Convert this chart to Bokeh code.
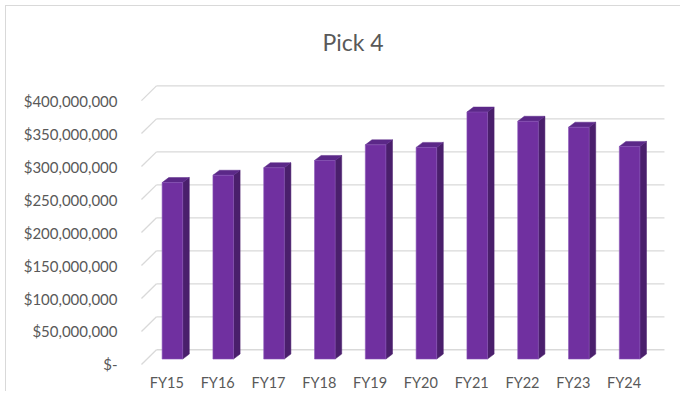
from bokeh.plotting import figure
from bokeh.models import FixedTicker, Range1d
from bokeh.core.properties import value
from bokeh.embed import file_html
from bokeh.resources import INLINE

# ---- data ----
categories = ["FY15", "FY16", "FY17", "FY18", "FY19", "FY20", "FY21", "FY22", "FY23", "FY24"]
values_musd = [267.5, 278.6, 290.0, 301.0, 324.7, 320.8, 374.4, 360.4, 351.4, 322.3]
y_ticks = [0, 50e6, 100e6, 150e6, 200e6, 250e6, 300e6, 350e6, 400e6]
y_tick_labels = ["$-", "$50,000,000", "$100,000,000", "$150,000,000", "$200,000,000",
                 "$250,000,000", "$300,000,000", "$350,000,000", "$400,000,000"]

values = [v * 1e6 for v in values_musd]

# ---- 3D style constants (data units) ----
DEPTH_X = 0.295          # wall depth along category axis
DEPTH_Y = 22.3e6         # wall depth along value axis
BAR_W = 0.405
BAR_F = 0.37             # position of bar front face in depth
BAR_BX = 0.44            # bar depth (x) fraction
BAR_BY = 0.34            # bar depth (y) fraction
XLABEL_Y = -26.7e6       # vertical position of category labels

FONT = "Lato"
GREY = "#595959"
GRID = "#d9d9d9"

n = len(categories)
p = figure(width=680, height=391, output_backend="svg", toolbar_location=None,
           x_range=Range1d(-0.039, 10.335), y_range=Range1d(-40.96e6, 424.4e6),
           min_border_left=139, min_border_right=14, min_border_top=82, min_border_bottom=0)
p.outline_line_color = None
p.xgrid.visible = False
p.ygrid.visible = False
p.xaxis.visible = False
p.border_fill_color = None
p.background_fill_color = None

# title
p.title.text = "Pick 4"
p.title.align = "left"
p.title.vertical_align = "top"
p.title.standoff = 54
p.title.text_font = FONT
p.title.text_font_style = "normal"
p.title.text_font_size = "23px"
p.title.text_color = GREY
p.title.offset = 183

# gridlines: back wall + diagonal side
gx0 = [DEPTH_X] * len(y_ticks)
gx1 = [n + DEPTH_X] * len(y_ticks)
gy = [t + DEPTH_Y for t in y_ticks]
p.segment(x0=gx0, y0=gy, x1=gx1, y1=gy, line_color=GRID, line_width=1.3)
p.segment(x0=[0] * len(y_ticks), y0=y_ticks, x1=[DEPTH_X] * len(y_ticks), y1=gy,
          line_color=GRID, line_width=1.3)

# bars
fx_l, fx_r, fy0, fy1 = [], [], [], []
side_xs, side_ys, top_xs, top_ys = [], [], [], []
for i, v in enumerate(values):
    xl = i + 0.5 - BAR_W / 2 + BAR_F * DEPTH_X
    xr = i + 0.5 + BAR_W / 2 + BAR_F * DEPTH_X
    yb = BAR_F * DEPTH_Y
    yt = v + BAR_F * DEPTH_Y
    dx = BAR_BX * DEPTH_X
    dy = BAR_BY * DEPTH_Y
    fx_l.append(xl); fx_r.append(xr); fy0.append(yb); fy1.append(yt)
    side_xs.append([xr, xr + dx, xr + dx, xr])
    side_ys.append([yb, yb + dy, yt + dy, yt])
    top_xs.append([xl, xr, xr + dx, xl + dx])
    top_ys.append([yt, yt, yt + dy, yt + dy])

p.patches(side_xs, side_ys, fill_color="#4a1f6c", line_color="#4a1f6c", line_width=0.5)
p.patches(top_xs, top_ys, fill_color="#5b2888", line_color="#5b2888", line_width=0.5)
p.quad(left=fx_l, right=fx_r, bottom=fy0, top=fy1, fill_color="#7030a0",
       line_color="#8a55b8", line_width=0.6)

# category labels (front plane of the 3D floor)
p.text(x=[i + 0.5 for i in range(n)], y=[XLABEL_Y] * n, text=categories,
       text_font=value(FONT), text_font_size="14.5px", text_color=GREY,
       text_align="center", text_baseline="middle")

# value axis
p.yaxis.ticker = FixedTicker(ticks=y_ticks)
p.yaxis.major_label_overrides = {t: s for t, s in zip(y_ticks, y_tick_labels)}
p.yaxis.axis_line_color = None
p.yaxis.major_tick_line_color = None
p.yaxis.minor_tick_line_color = None
p.yaxis.major_label_text_font = FONT
p.yaxis.major_label_text_font_size = "15px"
p.yaxis.major_label_text_color = GREY
p.yaxis.major_label_standoff = 16

# chart border (top and left edges, as in the reference)
p.styles = {
    "background-color": "white",
    "background-image": "linear-gradient(#d9d9d9, #d9d9d9), linear-gradient(#d9d9d9, #d9d9d9)",
    "background-size": "100% 1px, 1px 100%",
    "background-position": "5px 5px, 5px 5px",
    "background-repeat": "no-repeat",
}

open("out.html", "w").write(file_html(p, INLINE))
